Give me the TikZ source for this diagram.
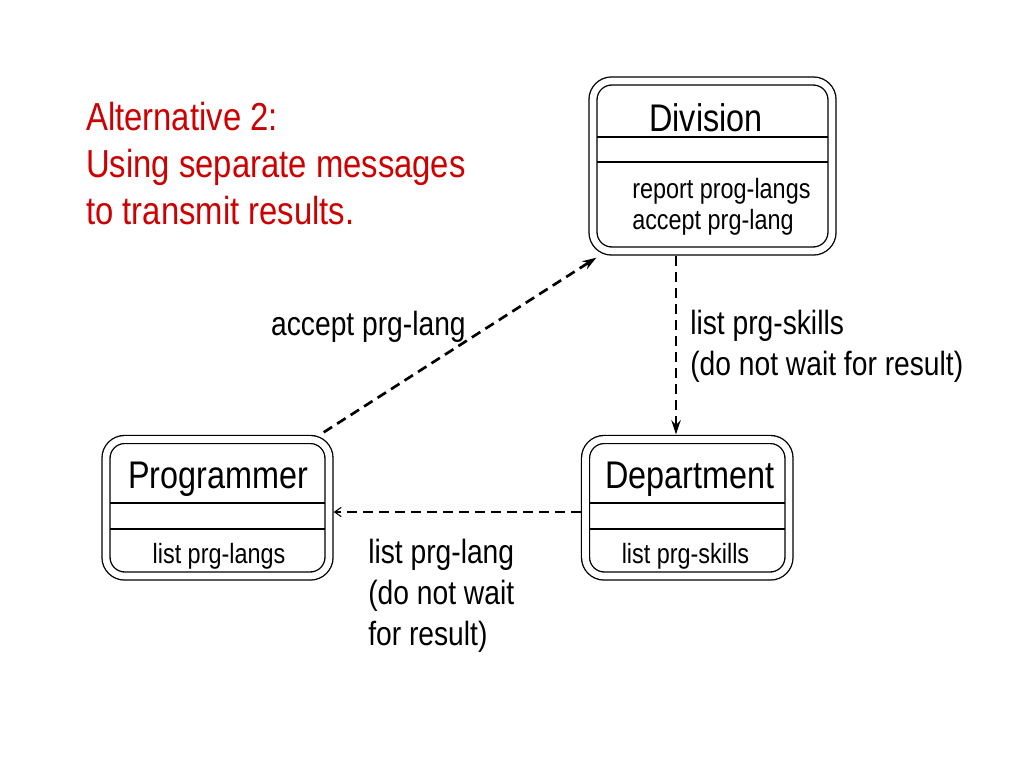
\documentclass[tikz,border=0pt]{standalone}
\usepackage{fontspec}
\setmainfont[FakeStretch=0.84]{Liberation Sans}
\usetikzlibrary{calc,arrows.meta}
\definecolor{titlered}{RGB}{204,0,0}
\tikzset{
  classbox/.style={draw, line width=1pt, double, double distance=5pt, rounded corners=14pt, inner sep=0pt},
  classname/.style={anchor=base, inner sep=0pt, font=\fontsize{28.9}{34}\selectfont},
  classop/.style={anchor=base west, inner sep=0pt, align=left, font=\fontsize{20.9}{23.25}\selectfont},
  msglabel/.style={inner sep=0pt, align=left, font=\fontsize{25.2}{30.5}\selectfont},
  msgline/.style={line width=2pt, dash pattern=on 7.5pt off 4.5pt},
}

\begin{document}
\begin{tikzpicture}[x=0.75pt, y=-0.75pt]
			\useasboundingbox (0,0) rectangle (1024,768);
			%%%%% START %%%%%
			
			\node[anchor=base west, inner sep=0pt, align=left, text=titlered, font=\fontsize{29.3}{35.25}\selectfont] (title) at (86,224) {Alternative 2:\\Using separate messages\\to transmit results.};
			
			% Division
			\node[classbox, minimum width=179.25pt, minimum height=127.5pt] (division) at (712.5,166) {};
			\draw[line width=1pt] (597,137) -- (828,137);
			\draw[line width=1pt] (597,162) -- (828,162);
			\node[classname] (divisionname) at (706,131) {Division};
			\node[classop] (divisionops) at (632,229) {report prog-langs\\accept prg-lang};
			
			% Programmer
			\node[classbox, minimum width=167.25pt, minimum height=102.4pt] (programmer) at (217.5,507.75) {};
			\draw[line width=1pt] (110,503) -- (325,503);
			\draw[line width=1pt] (110,529) -- (325,529);
			\node[classname] (programmername) at (218,488) {Programmer};
			\node[classop, anchor=base] (programmerops) at (219,563) {list prg-langs};
			
			% Department
			\node[classbox, minimum width=152.6pt, minimum height=102.4pt] (department) at (687.25,507.75) {};
			\draw[line width=1pt] (589.5,503) -- (785,503);
			\draw[line width=1pt] (589.5,529) -- (785,529);
			\node[classname] (departmentname) at (690,488) {Department};
			\node[classop, anchor=base] (departmentops) at (685.5,563) {list prg-skills};
			
			% messages
			\draw[msgline, -{Stealth[length=10.5pt, width=7pt]}] ($(division.south)+(-36.5,4.5)$) -- ($(department.north)+(-11.25,-4.5)$);
			\draw[msgline, -{Straight Barb[length=5pt, width=7pt, line width=0.8pt]}] ($(department.west)+(-4,4.25)$) -- ($(programmer.east)+(4,4.25)$);
			\draw[msgline, -{Stealth[length=10.5pt, width=7pt]}] ($(programmer.north east)+(-6,-6.5)$) -- ($(division.south west)+(4,6)$);
			
			\node[msglabel, anchor=base east] (acceptlabel) at (466,335) {accept prg-lang};
			\node[msglabel, anchor=base west] (skillslabel) at (690,375) {list prg-skills\\(do not wait for result)};
			\node[msglabel, anchor=base west] (langlabel) at (368,645) {list prg-lang\\(do not wait\\for result)};
			
			%%%%% END %%%%%
		\end{tikzpicture}
\end{document}
